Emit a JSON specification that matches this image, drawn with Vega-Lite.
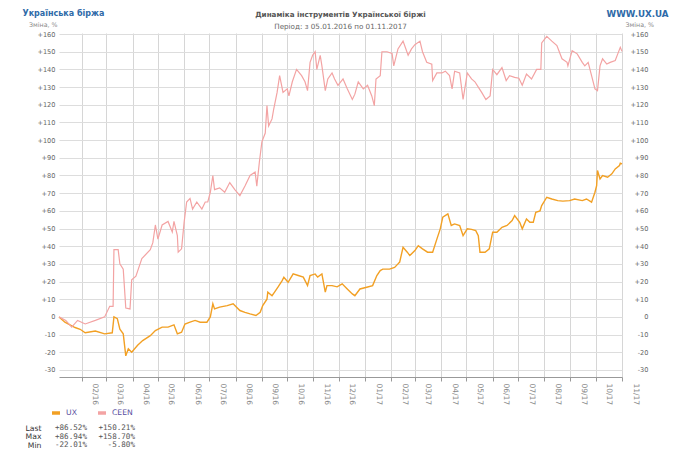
{
  "$schema": "https://vega.github.io/schema/vega-lite/v6.json",
  "padding": {"left": 22, "top": 9, "right": 5, "bottom": 0},
  "background": "white",
  "config": {"font": "DejaVu Sans", "view": {"stroke": null}},
  "datasets": {
    "lines": [
      {"date":"2016-01-05","series":"UX","value":0},
      {"date":"2016-01-12","series":"UX","value":-3},
      {"date":"2016-01-24","series":"UX","value":-6},
      {"date":"2016-01-30","series":"UX","value":-7},
      {"date":"2016-02-05","series":"UX","value":-9},
      {"date":"2016-02-17","series":"UX","value":-8},
      {"date":"2016-02-28","series":"UX","value":-9.6},
      {"date":"2016-03-08","series":"UX","value":-9},
      {"date":"2016-03-10","series":"UX","value":0},
      {"date":"2016-03-14","series":"UX","value":-1},
      {"date":"2016-03-17","series":"UX","value":-7},
      {"date":"2016-03-21","series":"UX","value":-9.6},
      {"date":"2016-03-24","series":"UX","value":-22.01},
      {"date":"2016-03-27","series":"UX","value":-18},
      {"date":"2016-03-31","series":"UX","value":-20},
      {"date":"2016-04-07","series":"UX","value":-16},
      {"date":"2016-04-13","series":"UX","value":-13.4},
      {"date":"2016-04-22","series":"UX","value":-10.6},
      {"date":"2016-04-28","series":"UX","value":-7.7},
      {"date":"2016-05-06","series":"UX","value":-5.8},
      {"date":"2016-05-13","series":"UX","value":-5.8},
      {"date":"2016-05-20","series":"UX","value":-4.5},
      {"date":"2016-05-24","series":"UX","value":-9.6},
      {"date":"2016-05-29","series":"UX","value":-8.7},
      {"date":"2016-06-02","series":"UX","value":-4},
      {"date":"2016-06-08","series":"UX","value":-3},
      {"date":"2016-06-14","series":"UX","value":-2},
      {"date":"2016-06-20","series":"UX","value":-3},
      {"date":"2016-06-28","series":"UX","value":-3},
      {"date":"2016-07-02","series":"UX","value":0},
      {"date":"2016-07-05","series":"UX","value":7.4},
      {"date":"2016-07-07","series":"UX","value":4.5},
      {"date":"2016-07-13","series":"UX","value":5.5},
      {"date":"2016-07-22","series":"UX","value":6.4},
      {"date":"2016-07-29","series":"UX","value":7.4},
      {"date":"2016-08-06","series":"UX","value":3.6},
      {"date":"2016-08-12","series":"UX","value":2.6},
      {"date":"2016-08-18","series":"UX","value":1.7},
      {"date":"2016-08-25","series":"UX","value":0.8},
      {"date":"2016-08-30","series":"UX","value":2.6},
      {"date":"2016-09-02","series":"UX","value":6.4},
      {"date":"2016-09-07","series":"UX","value":10},
      {"date":"2016-09-08","series":"UX","value":14},
      {"date":"2016-09-13","series":"UX","value":12},
      {"date":"2016-09-16","series":"UX","value":14},
      {"date":"2016-09-20","series":"UX","value":16.8},
      {"date":"2016-09-25","series":"UX","value":20.5},
      {"date":"2016-09-27","series":"UX","value":22.4},
      {"date":"2016-10-02","series":"UX","value":19.6},
      {"date":"2016-10-08","series":"UX","value":24.3},
      {"date":"2016-10-14","series":"UX","value":23.4},
      {"date":"2016-10-20","series":"UX","value":22.5},
      {"date":"2016-10-25","series":"UX","value":17.7},
      {"date":"2016-10-28","series":"UX","value":23.4},
      {"date":"2016-11-03","series":"UX","value":24.3},
      {"date":"2016-11-06","series":"UX","value":22.5},
      {"date":"2016-11-11","series":"UX","value":24.3},
      {"date":"2016-11-15","series":"UX","value":14},
      {"date":"2016-11-17","series":"UX","value":17.7},
      {"date":"2016-11-23","series":"UX","value":17.7},
      {"date":"2016-11-29","series":"UX","value":17},
      {"date":"2016-12-05","series":"UX","value":18.7},
      {"date":"2016-12-11","series":"UX","value":15.8},
      {"date":"2016-12-17","series":"UX","value":13},
      {"date":"2016-12-20","series":"UX","value":12},
      {"date":"2016-12-26","series":"UX","value":15.8},
      {"date":"2017-01-03","series":"UX","value":16.8},
      {"date":"2017-01-10","series":"UX","value":17.7},
      {"date":"2017-01-15","series":"UX","value":23.4},
      {"date":"2017-01-19","series":"UX","value":26.2},
      {"date":"2017-01-22","series":"UX","value":27},
      {"date":"2017-01-30","series":"UX","value":27},
      {"date":"2017-02-05","series":"UX","value":28},
      {"date":"2017-02-09","series":"UX","value":30},
      {"date":"2017-02-11","series":"UX","value":31},
      {"date":"2017-02-15","series":"UX","value":39.4},
      {"date":"2017-02-20","series":"UX","value":36.6},
      {"date":"2017-02-23","series":"UX","value":34.7},
      {"date":"2017-03-01","series":"UX","value":37.5},
      {"date":"2017-03-05","series":"UX","value":40.3},
      {"date":"2017-03-10","series":"UX","value":38.5},
      {"date":"2017-03-16","series":"UX","value":36.6},
      {"date":"2017-03-22","series":"UX","value":36.6},
      {"date":"2017-03-27","series":"UX","value":44},
      {"date":"2017-03-31","series":"UX","value":49.8},
      {"date":"2017-04-03","series":"UX","value":56.4},
      {"date":"2017-04-09","series":"UX","value":58.3},
      {"date":"2017-04-13","series":"UX","value":51.7},
      {"date":"2017-04-17","series":"UX","value":52.6},
      {"date":"2017-04-23","series":"UX","value":51.7},
      {"date":"2017-04-27","series":"UX","value":46},
      {"date":"2017-05-02","series":"UX","value":49.8},
      {"date":"2017-05-07","series":"UX","value":49.5},
      {"date":"2017-05-12","series":"UX","value":48.8},
      {"date":"2017-05-15","series":"UX","value":46},
      {"date":"2017-05-17","series":"UX","value":36.6},
      {"date":"2017-05-23","series":"UX","value":36.6},
      {"date":"2017-05-28","series":"UX","value":38.5},
      {"date":"2017-06-01","series":"UX","value":47.9},
      {"date":"2017-06-06","series":"UX","value":47.9},
      {"date":"2017-06-12","series":"UX","value":50.7},
      {"date":"2017-06-18","series":"UX","value":51.7},
      {"date":"2017-06-24","series":"UX","value":54.5},
      {"date":"2017-06-27","series":"UX","value":57.3},
      {"date":"2017-07-03","series":"UX","value":53.5},
      {"date":"2017-07-06","series":"UX","value":49.8},
      {"date":"2017-07-11","series":"UX","value":55.4},
      {"date":"2017-07-15","series":"UX","value":53.5},
      {"date":"2017-07-19","series":"UX","value":53.5},
      {"date":"2017-07-22","series":"UX","value":59.2},
      {"date":"2017-07-27","series":"UX","value":60},
      {"date":"2017-07-29","series":"UX","value":63},
      {"date":"2017-08-04","series":"UX","value":67.7},
      {"date":"2017-08-10","series":"UX","value":66.7},
      {"date":"2017-08-17","series":"UX","value":65.8},
      {"date":"2017-08-23","series":"UX","value":65.5},
      {"date":"2017-08-31","series":"UX","value":65.8},
      {"date":"2017-09-06","series":"UX","value":66.7},
      {"date":"2017-09-15","series":"UX","value":65.8},
      {"date":"2017-09-20","series":"UX","value":66.7},
      {"date":"2017-09-26","series":"UX","value":64.9},
      {"date":"2017-09-30","series":"UX","value":70.5},
      {"date":"2017-10-02","series":"UX","value":74.3},
      {"date":"2017-10-03","series":"UX","value":82.8},
      {"date":"2017-10-06","series":"UX","value":78},
      {"date":"2017-10-09","series":"UX","value":80},
      {"date":"2017-10-15","series":"UX","value":79},
      {"date":"2017-10-20","series":"UX","value":80.9},
      {"date":"2017-10-24","series":"UX","value":83.7},
      {"date":"2017-10-29","series":"UX","value":85.6},
      {"date":"2017-10-30","series":"UX","value":86.94},
      {"date":"2017-11-01","series":"UX","value":86.52},
      {"date":"2016-01-05","series":"CEEN","value":0},
      {"date":"2016-01-13","series":"CEEN","value":-2},
      {"date":"2016-01-20","series":"CEEN","value":-5.8},
      {"date":"2016-01-27","series":"CEEN","value":-2},
      {"date":"2016-02-05","series":"CEEN","value":-4},
      {"date":"2016-02-17","series":"CEEN","value":-2},
      {"date":"2016-02-28","series":"CEEN","value":0},
      {"date":"2016-03-05","series":"CEEN","value":6},
      {"date":"2016-03-09","series":"CEEN","value":6},
      {"date":"2016-03-10","series":"CEEN","value":38},
      {"date":"2016-03-15","series":"CEEN","value":38},
      {"date":"2016-03-17","series":"CEEN","value":30},
      {"date":"2016-03-21","series":"CEEN","value":27},
      {"date":"2016-03-24","series":"CEEN","value":5},
      {"date":"2016-03-29","series":"CEEN","value":4.5},
      {"date":"2016-03-31","series":"CEEN","value":21},
      {"date":"2016-04-05","series":"CEEN","value":23},
      {"date":"2016-04-12","series":"CEEN","value":33},
      {"date":"2016-04-22","series":"CEEN","value":38},
      {"date":"2016-04-25","series":"CEEN","value":42},
      {"date":"2016-04-28","series":"CEEN","value":52},
      {"date":"2016-05-01","series":"CEEN","value":44},
      {"date":"2016-05-06","series":"CEEN","value":52},
      {"date":"2016-05-13","series":"CEEN","value":54},
      {"date":"2016-05-18","series":"CEEN","value":48},
      {"date":"2016-05-20","series":"CEEN","value":54},
      {"date":"2016-05-24","series":"CEEN","value":46},
      {"date":"2016-05-25","series":"CEEN","value":36.6},
      {"date":"2016-05-29","series":"CEEN","value":38.5},
      {"date":"2016-06-01","series":"CEEN","value":53.5},
      {"date":"2016-06-04","series":"CEEN","value":65},
      {"date":"2016-06-08","series":"CEEN","value":67},
      {"date":"2016-06-11","series":"CEEN","value":61},
      {"date":"2016-06-16","series":"CEEN","value":65},
      {"date":"2016-06-22","series":"CEEN","value":61},
      {"date":"2016-06-26","series":"CEEN","value":65},
      {"date":"2016-06-29","series":"CEEN","value":65},
      {"date":"2016-07-02","series":"CEEN","value":70.5},
      {"date":"2016-07-05","series":"CEEN","value":80},
      {"date":"2016-07-07","series":"CEEN","value":72},
      {"date":"2016-07-13","series":"CEEN","value":73},
      {"date":"2016-07-19","series":"CEEN","value":70.5},
      {"date":"2016-07-25","series":"CEEN","value":76},
      {"date":"2016-07-31","series":"CEEN","value":72},
      {"date":"2016-08-06","series":"CEEN","value":68.6},
      {"date":"2016-08-12","series":"CEEN","value":74},
      {"date":"2016-08-18","series":"CEEN","value":80},
      {"date":"2016-08-24","series":"CEEN","value":82},
      {"date":"2016-08-26","series":"CEEN","value":74},
      {"date":"2016-08-29","series":"CEEN","value":87.5},
      {"date":"2016-09-01","series":"CEEN","value":99},
      {"date":"2016-09-05","series":"CEEN","value":104},
      {"date":"2016-09-07","series":"CEEN","value":119.5},
      {"date":"2016-09-09","series":"CEEN","value":108},
      {"date":"2016-09-13","series":"CEEN","value":112},
      {"date":"2016-09-15","series":"CEEN","value":117.6},
      {"date":"2016-09-19","series":"CEEN","value":127},
      {"date":"2016-09-22","series":"CEEN","value":136.5},
      {"date":"2016-09-26","series":"CEEN","value":127},
      {"date":"2016-10-01","series":"CEEN","value":129},
      {"date":"2016-10-03","series":"CEEN","value":125},
      {"date":"2016-10-07","series":"CEEN","value":133},
      {"date":"2016-10-12","series":"CEEN","value":140},
      {"date":"2016-10-18","series":"CEEN","value":136.5},
      {"date":"2016-10-22","series":"CEEN","value":133},
      {"date":"2016-10-25","series":"CEEN","value":128},
      {"date":"2016-10-28","series":"CEEN","value":144},
      {"date":"2016-10-31","series":"CEEN","value":148},
      {"date":"2016-11-03","series":"CEEN","value":150},
      {"date":"2016-11-05","series":"CEEN","value":140},
      {"date":"2016-11-09","series":"CEEN","value":148},
      {"date":"2016-11-11","series":"CEEN","value":142},
      {"date":"2016-11-15","series":"CEEN","value":128},
      {"date":"2016-11-18","series":"CEEN","value":134.6},
      {"date":"2016-11-23","series":"CEEN","value":138},
      {"date":"2016-11-26","series":"CEEN","value":134.6},
      {"date":"2016-11-30","series":"CEEN","value":131},
      {"date":"2016-12-06","series":"CEEN","value":134.6},
      {"date":"2016-12-11","series":"CEEN","value":129},
      {"date":"2016-12-17","series":"CEEN","value":123},
      {"date":"2016-12-20","series":"CEEN","value":126},
      {"date":"2016-12-24","series":"CEEN","value":133},
      {"date":"2016-12-30","series":"CEEN","value":129},
      {"date":"2017-01-04","series":"CEEN","value":131},
      {"date":"2017-01-09","series":"CEEN","value":125},
      {"date":"2017-01-12","series":"CEEN","value":119.5},
      {"date":"2017-01-14","series":"CEEN","value":134.6},
      {"date":"2017-01-19","series":"CEEN","value":136.5},
      {"date":"2017-01-21","series":"CEEN","value":150},
      {"date":"2017-01-27","series":"CEEN","value":150},
      {"date":"2017-02-02","series":"CEEN","value":149},
      {"date":"2017-02-04","series":"CEEN","value":142},
      {"date":"2017-02-09","series":"CEEN","value":151.6},
      {"date":"2017-02-15","series":"CEEN","value":156},
      {"date":"2017-02-21","series":"CEEN","value":148},
      {"date":"2017-02-25","series":"CEEN","value":151.6},
      {"date":"2017-03-01","series":"CEEN","value":154},
      {"date":"2017-03-07","series":"CEEN","value":156},
      {"date":"2017-03-10","series":"CEEN","value":150},
      {"date":"2017-03-15","series":"CEEN","value":144},
      {"date":"2017-03-21","series":"CEEN","value":143},
      {"date":"2017-03-22","series":"CEEN","value":133.7},
      {"date":"2017-03-27","series":"CEEN","value":138},
      {"date":"2017-04-02","series":"CEEN","value":138},
      {"date":"2017-04-06","series":"CEEN","value":139},
      {"date":"2017-04-11","series":"CEEN","value":136.5},
      {"date":"2017-04-14","series":"CEEN","value":129},
      {"date":"2017-04-17","series":"CEEN","value":139},
      {"date":"2017-04-23","series":"CEEN","value":138},
      {"date":"2017-04-27","series":"CEEN","value":123},
      {"date":"2017-05-02","series":"CEEN","value":138},
      {"date":"2017-05-07","series":"CEEN","value":134.6},
      {"date":"2017-05-11","series":"CEEN","value":133},
      {"date":"2017-05-15","series":"CEEN","value":130},
      {"date":"2017-05-19","series":"CEEN","value":127},
      {"date":"2017-05-24","series":"CEEN","value":123},
      {"date":"2017-05-29","series":"CEEN","value":125},
      {"date":"2017-06-01","series":"CEEN","value":140},
      {"date":"2017-06-06","series":"CEEN","value":137},
      {"date":"2017-06-12","series":"CEEN","value":141},
      {"date":"2017-06-17","series":"CEEN","value":133.7},
      {"date":"2017-06-21","series":"CEEN","value":136.5},
      {"date":"2017-06-27","series":"CEEN","value":135.5},
      {"date":"2017-07-02","series":"CEEN","value":135},
      {"date":"2017-07-06","series":"CEEN","value":131},
      {"date":"2017-07-11","series":"CEEN","value":137.4},
      {"date":"2017-07-17","series":"CEEN","value":134.6},
      {"date":"2017-07-23","series":"CEEN","value":140},
      {"date":"2017-07-28","series":"CEEN","value":140},
      {"date":"2017-07-29","series":"CEEN","value":155},
      {"date":"2017-08-04","series":"CEEN","value":158.7},
      {"date":"2017-08-10","series":"CEEN","value":156},
      {"date":"2017-08-16","series":"CEEN","value":153.5},
      {"date":"2017-08-22","series":"CEEN","value":146},
      {"date":"2017-08-28","series":"CEEN","value":144},
      {"date":"2017-08-29","series":"CEEN","value":142},
      {"date":"2017-09-03","series":"CEEN","value":150.6},
      {"date":"2017-09-09","series":"CEEN","value":148.8},
      {"date":"2017-09-15","series":"CEEN","value":144},
      {"date":"2017-09-18","series":"CEEN","value":142},
      {"date":"2017-09-22","series":"CEEN","value":144},
      {"date":"2017-09-26","series":"CEEN","value":136.5},
      {"date":"2017-09-30","series":"CEEN","value":129},
      {"date":"2017-10-03","series":"CEEN","value":128},
      {"date":"2017-10-06","series":"CEEN","value":142},
      {"date":"2017-10-09","series":"CEEN","value":146},
      {"date":"2017-10-14","series":"CEEN","value":143},
      {"date":"2017-10-18","series":"CEEN","value":144},
      {"date":"2017-10-24","series":"CEEN","value":145},
      {"date":"2017-10-27","series":"CEEN","value":148.8},
      {"date":"2017-10-30","series":"CEEN","value":152.5},
      {"date":"2017-11-01","series":"CEEN","value":150.21}
    ],
    "stats": [
      {"row":"Last","col":"UX","text":"+86.52%"},
      {"row":"Last","col":"CEEN","text":"+150.21%"},
      {"row":"Max","col":"UX","text":"+86.94%"},
      {"row":"Max","col":"CEEN","text":"+158.70%"},
      {"row":"Min","col":"UX","text":"-22.01%"},
      {"row":"Min","col":"CEEN","text":"-5.80%"}
    ]
  },
  "vconcat": [
    {
      "width": 563,
      "height": 344,
      "title": {
        "text": "Динаміка інструментів Української біржі",
        "subtitle": "Період: з 05.01.2016 по 01.11.2017",
        "anchor": "middle",
        "font": "DejaVu Sans",
        "fontSize": 7.2,
        "fontWeight": "bold",
        "color": "#555555",
        "subtitleFont": "DejaVu Sans",
        "subtitleFontSize": 7.2,
        "subtitleColor": "#666666",
        "subtitlePadding": 5,
        "offset": -21
      },
      "data": {"name": "lines"},
      "layer": [
        {
          "transform": [{"filter": "datum.series === 'UX'"}],
          "mark": {"type": "line", "strokeWidth": 1.4},
          "encoding": {
            "x": {
              "field": "date", "type": "temporal",
              "scale": {"domain": [{"year": 2016, "month": 1, "date": 5, "utc": true}, {"year": 2017, "month": 11, "date": 1, "utc": true}]},
              "axis": {
                "orient": "bottom", "format": "%m/%y",
                "tickCount": {"interval": "month", "step": 1},
                "labelAngle": 90, "labelAlign": "left", "labelBaseline": "middle",
                "labelOffset": 13, "labelPadding": 2, "labelFontSize": 7.5,
                "labelColor": "#888888", "labelOverlap": false, "labelFlush": false,
                "tickColor": "#999999", "tickSize": 4, "domainColor": "#999999",
                "grid": true, "gridColor": "#d6d6d6",
                "title": "Українська біржа", "titleX": -37, "titleY": -364,
                "titleAlign": "left", "titleBaseline": "middle", "titleAngle": 0,
                "titleFontSize": 8, "titleFontWeight": "bold", "titleColor": "#2e6aa8"
              }
            },
            "y": {
              "field": "value", "type": "quantitative",
              "scale": {"domain": [-34, 160.6], "nice": false, "zero": false},
              "axis": {
                "orient": "left",
                "values": [-30, -20, -10, 0, 10, 20, 30, 40, 50, 60, 70, 80, 90, 100, 110, 120, 130, 140, 150, 160],
                "labelExpr": "datum.value > 0 ? '+' + datum.value : '' + datum.value",
                "ticks": false, "domain": false, "grid": true, "gridColor": "#dddddd",
                "labelPadding": 4, "labelFontSize": 6.6, "labelColor": "#666666",
                "title": "Зміна, %", "titleAngle": 0, "titleAlign": "right", "titleBaseline": "middle",
                "titleX": -2, "titleY": -9, "titleFontSize": 6.3, "titleFontWeight": "normal", "titleColor": "#888888"
              }
            },
            "color": {
              "field": "series", "type": "nominal",
              "scale": {"domain": ["UX", "CEEN"], "range": ["#f2a024", "#f3a3a3"]},
              "legend": {
                "orient": "none", "legendX": -9, "legendY": 374, "direction": "horizontal",
                "title": null, "symbolType": "stroke", "symbolStrokeWidth": 3.5, "symbolSize": 64,
                "labelFontSize": 7.7, "labelColor": "#5a4fa0", "labelOffset": 4, "columnPadding": 14
              }
            }
          }
        },
        {
          "transform": [{"filter": "datum.series === 'CEEN'"}],
          "mark": {"type": "line", "strokeWidth": 1.2},
          "encoding": {
            "x": {
              "field": "date", "type": "temporal",
              "scale": {"domain": [{"year": 2016, "month": 1, "date": 5, "utc": true}, {"year": 2017, "month": 11, "date": 1, "utc": true}]},
              "axis": {
                "orient": "top", "domain": false, "ticks": false, "labels": false, "grid": false,
                "title": "WWW.UX.UA", "titleX": 609, "titleY": -20, "titleAngle": 0,
                "titleAlign": "right", "titleBaseline": "middle",
                "titleFontSize": 8.7, "titleFontWeight": "bold", "titleColor": "#2e6aa8"
              }
            },
            "y": {
              "field": "value", "type": "quantitative",
              "scale": {"domain": [-34, 160.6], "nice": false, "zero": false},
              "axis": {
                "orient": "right",
                "values": [-30, -20, -10, 0, 10, 20, 30, 40, 50, 60, 70, 80, 90, 100, 110, 120, 130, 140, 150, 160],
                "labelExpr": "datum.value > 0 ? '+' + datum.value : '' + datum.value",
                "ticks": false, "domain": false, "grid": false,
                "labelPadding": 26, "labelAlign": "right", "labelFontSize": 6.6, "labelColor": "#666666",
                "title": "Зміна, %", "titleAngle": 0, "titleAlign": "left", "titleBaseline": "middle",
                "titleX": 3, "titleY": -9, "titleFontSize": 6.3, "titleFontWeight": "normal", "titleColor": "#888888"
              }
            },
            "color": {
              "field": "series", "type": "nominal",
              "scale": {"domain": ["UX", "CEEN"], "range": ["#f2a024", "#f3a3a3"]}
            }
          }
        }
      ],
      "resolve": {"scale": {"x": "independent", "y": "independent"}}
    },
    {
      "width": 104,
      "height": 25.5,
      "data": {"name": "stats"},
      "mark": {"type": "text", "align": "right", "baseline": "middle", "font": "DejaVu Sans Mono", "fontSize": 7.6, "color": "#555555"},
      "encoding": {
        "x": {"field": "col", "type": "nominal", "scale": {"type": "point", "domain": ["UX", "CEEN"], "padding": 0.583}, "axis": null},
        "y": {
          "field": "row", "type": "nominal",
          "scale": {"type": "point", "domain": ["Last", "Max", "Min"], "padding": 0.5},
          "axis": {"title": null, "ticks": false, "domain": false, "grid": false, "labelPadding": 18, "labelFontSize": 7.7, "labelColor": "#333333"}
        },
        "text": {"field": "text"}
      }
    }
  ],
  "spacing": 4,
  "resolve": {"scale": {"color": "independent"}, "legend": {"color": "independent"}}
}
